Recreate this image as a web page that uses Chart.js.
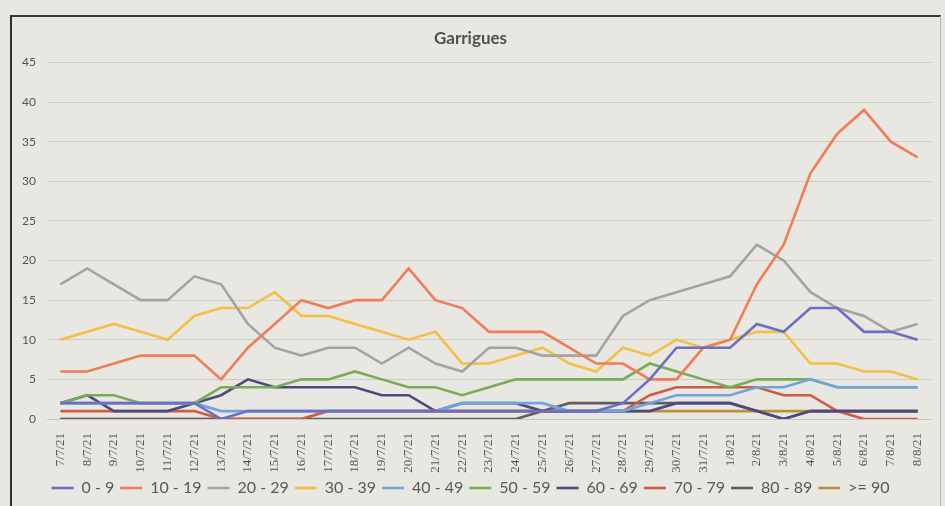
<!DOCTYPE html>
<html>
<head>
<meta charset="utf-8">
<script src="https://cdn.jsdelivr.net/npm/chart.js@4"></script>
<style>
  html, body { margin: 0; padding: 0; background: #e9e7e2; }
  #wrap { position: relative; width: 945px; height: 506px; }
  #frame {
    position: absolute; left: 10px; top: 15px; width: 928px; height: 500px;
    border-left: 2px solid #2e2e2e; border-top: 2px solid #3a3a3a; border-right: 1px solid #bdbbb5;
  }
  canvas { position: absolute; left: 0; top: 0; }
</style>
</head>
<body>
<div id="wrap">
  <div id="frame"></div>
  <canvas id="garriguesChart" width="945" height="506"></canvas>
</div>
<script>
const dates = ['7/7/21', '8/7/21', '9/7/21', '10/7/21', '11/7/21', '12/7/21', '13/7/21', '14/7/21',
    '15/7/21', '16/7/21', '17/7/21', '18/7/21', '19/7/21', '20/7/21', '21/7/21', '22/7/21',
    '23/7/21', '24/7/21', '25/7/21', '26/7/21', '27/7/21', '28/7/21', '29/7/21', '30/7/21',
    '31/7/21', '1/8/21', '2/8/21', '3/8/21', '4/8/21', '5/8/21', '6/8/21', '7/8/21', '8/8/21'];

const age0to9   = [2, 2, 2, 2, 2, 2, 0, 1, 1, 1, 1, 1, 1, 1, 1, 1, 1, 1, 1, 1, 1, 2, 5, 9, 9, 9, 12, 11, 14, 14, 11, 11, 10];
const age10to19 = [6, 6, 7, 8, 8, 8, 5, 9, 12, 15, 14, 15, 15, 19, 15, 14, 11, 11, 11, 9, 7, 7, 5, 5, 9, 10, 17, 22, 31, 36, 39, 35, 33];
const age20to29 = [17, 19, 17, 15, 15, 18, 17, 12, 9, 8, 9, 9, 7, 9, 7, 6, 9, 9, 8, 8, 8, 13, 15, 16, 17, 18, 22, 20, 16, 14, 13, 11, 12];
const age30to39 = [10, 11, 12, 11, 10, 13, 14, 14, 16, 13, 13, 12, 11, 10, 11, 7, 7, 8, 9, 7, 6, 9, 8, 10, 9, 10, 11, 11, 7, 7, 6, 6, 5];
const age40to49 = [2, 2, 2, 2, 2, 2, 1, 1, 1, 1, 1, 1, 1, 1, 1, 2, 2, 2, 2, 1, 1, 1, 2, 3, 3, 3, 4, 4, 5, 4, 4, 4, 4];
const age50to59 = [2, 3, 3, 2, 2, 2, 4, 4, 4, 5, 5, 6, 5, 4, 4, 3, 4, 5, 5, 5, 5, 5, 7, 6, 5, 4, 5, 5, 5, 4, 4, 4, 4];
const age60to69 = [2, 3, 1, 1, 1, 2, 3, 5, 4, 4, 4, 4, 3, 3, 1, 2, 2, 2, 1, 1, 1, 1, 1, 2, 2, 2, 1, 0, 1, 1, 1, 1, 1];
const age70to79 = [1, 1, 1, 1, 1, 1, 0, 0, 0, 0, 1, 1, 1, 1, 1, 1, 1, 1, 1, 1, 1, 1, 3, 4, 4, 4, 4, 3, 3, 1, 0, 0, 0];
const age80to89 = [0, 0, 0, 0, 0, 0, 0, 0, 0, 0, 0, 0, 0, 0, 0, 0, 0, 0, 1, 2, 2, 2, 2, 2, 2, 2, 1, 0, 1, 1, 1, 1, 1];
const age90plus = [0, 0, 0, 0, 0, 0, 0, 0, 0, 0, 1, 1, 1, 1, 1, 1, 1, 1, 1, 1, 1, 1, 1, 1, 1, 1, 1, 1, 1, 1, 1, 1, 1];

const yTicks = [0, 5, 10, 15, 20, 25, 30, 35, 40, 45];

function serie(label, data, color) {
    return {
        label: label,
        data: data,
        borderColor: color,
        backgroundColor: color,
        borderWidth: 2.6,
        pointRadius: 0,
        tension: 0
    };
}

const ctx = document.getElementById('garriguesChart').getContext('2d');

new Chart(ctx, {
    type: 'line',
    data: {
        labels: dates,
        datasets: [
            serie('0 - 9', age0to9, '#6b6fc4'),
            serie('10 - 19', age10to19, '#f07d55'),
            serie('20 - 29', age20to29, '#a3a3a3'),
            serie('30 - 39', age30to39, '#f5bf45'),
            serie('40 - 49', age40to49, '#72a3dc'),
            serie('50 - 59', age50to59, '#76ad55'),
            serie('60 - 69', age60to69, '#4c4a7e'),
            serie('70 - 79', age70to79, '#cf5a45'),
            serie('80 - 89', age80to89, '#5e5e5e'),
            serie('>= 90', age90plus, '#b8913f')
        ]
    },
    options: {
        responsive: false,
        animation: false,
        layout: { padding: { left: 10, right: 14, top: 16, bottom: 0 } },
        plugins: {
            title: {
                display: true,
                text: 'Garrigues',
                color: '#505050',
                font: { family: 'Lato', size: 17, weight: 'bold' },
                padding: { top: 12, bottom: 14 }
            },
            legend: {
                position: 'bottom',
                labels: {
                    usePointStyle: true,
                    pointStyle: 'line',
                    pointStyleWidth: 22,
                    color: '#595959',
                    font: { family: 'Lato', size: 16 },
                    padding: 6
                }
            },
            tooltip: { enabled: false }
        },
        scales: {
            x: {
                offset: true,
                grid: { display: false },
                border: { color: '#c8c6c0' },
                ticks: {
                    autoSkip: false,
                    maxRotation: 90,
                    minRotation: 90,
                    padding: 6,
                    color: '#555',
                    font: { family: 'Liberation Serif', size: 13 }
                },
                afterFit: scale => { scale.height = 55; }
            },
            y: {
                min: 0,
                max: 45,
                afterBuildTicks: scale => { scale.ticks = yTicks.map(v => ({ value: v })); },
                grid: { color: '#cdcbc5', drawTicks: false },
                border: { display: false },
                ticks: {
                    padding: 11,
                    color: '#555',
                    font: { family: 'Lato', size: 12 }
                },
                afterFit: scale => { scale.width = 37; }
            }
        }
    }
});
</script>
</body>
</html>
